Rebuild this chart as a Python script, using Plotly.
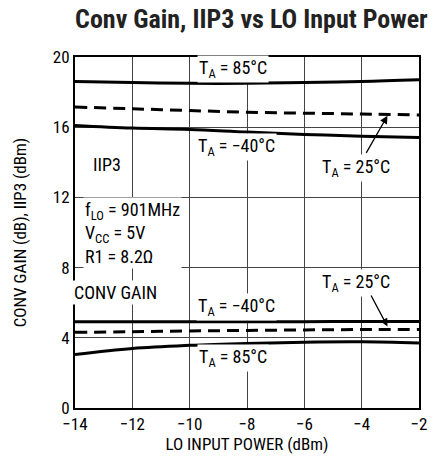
import plotly.graph_objects as go

lo_power = [-14, -12, -10, -8, -6, -4, -2]
iip3_85 = [18.6, 18.55, 18.5, 18.5, 18.55, 18.6, 18.7]
iip3_25 = [17.15, 17.05, 16.95, 16.85, 16.8, 16.75, 16.7]
iip3_m40 = [16.1, 15.95, 15.87, 15.72, 15.59, 15.49, 15.42]
gain_m40 = [4.91, 4.92, 4.92, 4.92, 4.92, 4.93, 4.93]
gain_25 = [4.31, 4.35, 4.39, 4.42, 4.45, 4.47, 4.48]
gain_85 = [3.05, 3.39, 3.57, 3.68, 3.75, 3.77, 3.71]

FONT = "Roboto Condensed, Roboto, sans-serif"
FS = 17

fig = go.Figure()
series = [
    (iip3_85, "solid"), (iip3_25, "dash"), (iip3_m40, "solid"),
    (gain_m40, "solid"), (gain_25, "dash"), (gain_85, "solid"),
]
for ys, dash in series:
    fig.add_trace(go.Scatter(x=lo_power, y=ys, mode="lines", line_shape="spline",
                             line=dict(color="black", width=3, dash="12px,7px" if dash == "dash" else "solid"),
                             showlegend=False, hoverinfo="skip"))

def ann(x, y, text, **kw):
    d = dict(x=x, y=y, text=text, showarrow=False, font=dict(family=FONT, size=18, color="black"),
             bgcolor="white", borderpad=1)
    d.update(kw)
    fig.add_annotation(**d)

ann(-8.5, 19.3, "T<sub>A</sub> = 85°C")
ann(-8.35, 14.85, "T<sub>A</sub> = −40°C")
ann(-4.2, 13.7, "T<sub>A</sub> = 25°C")
ann(-12.9, 13.9, "IIP3")
ann(-13.72, 10.0, "f<sub>LO</sub> = 901MHz<br>V<sub>CC</sub> = 5V<br>R1 = 8.2Ω", xanchor="left", align="left")
ann(-12.6, 6.6, "CONV GAIN")
ann(-8.35, 5.75, "T<sub>A</sub> = −40°C")
ann(-4.2, 7.13, "T<sub>A</sub> = 25°C")
ann(-8.5, 2.85, "T<sub>A</sub> = 85°C")

# arrows
fig.add_annotation(x=-3.1, y=16.65, ax=-3.87, ay=14.45, axref="x", ayref="y", xref="x", yref="y",
                   text="", showarrow=True, arrowhead=2, arrowsize=1.2, arrowwidth=1.3, arrowcolor="black")
fig.add_annotation(x=-3.1, y=4.65, ax=-3.7, ay=6.5, axref="x", ayref="y", xref="x", yref="y",
                   text="", showarrow=True, arrowhead=2, arrowsize=1.2, arrowwidth=1.3, arrowcolor="black")

fig.update_layout(
    width=438, height=464,
    margin=dict(l=75, r=11, t=57, b=56),
    paper_bgcolor="white", plot_bgcolor="white",
    font=dict(family=FONT, size=FS, color="black"),
    title=dict(text="<b>Conv Gain, IIP3 vs LO Input Power</b>", x=0.574, xanchor="center", y=0.96,
               yanchor="middle", font=dict(family=FONT, size=26, color="#222")),
)
fig.update_xaxes(range=[-14, -2], tickmode="array", tickvals=lo_power,
                 ticktext=["−14", "−12", "−10", "−8", "−6", "−4", "−2"],
                 showgrid=True, gridcolor="#444", gridwidth=1, zeroline=False,
                 showline=True, linecolor="black", linewidth=2, mirror=True, ticks="",
                 title=dict(text="LO INPUT POWER (dBm)", standoff=4, font=dict(size=FS)))
fig.update_yaxes(range=[0, 20], tickvals=[0, 4, 8, 12, 16, 20],
                 showgrid=True, gridcolor="#444", gridwidth=1, zeroline=False,
                 showline=True, linecolor="black", linewidth=2, mirror=True, ticks="",
                 title=dict(text="CONV GAIN (dB), IIP3 (dBm)", standoff=22, font=dict(size=FS)))

fig.write_html("out.html", config={"displayModeBar": False},
               post_script="document.body.style.margin='0';")
